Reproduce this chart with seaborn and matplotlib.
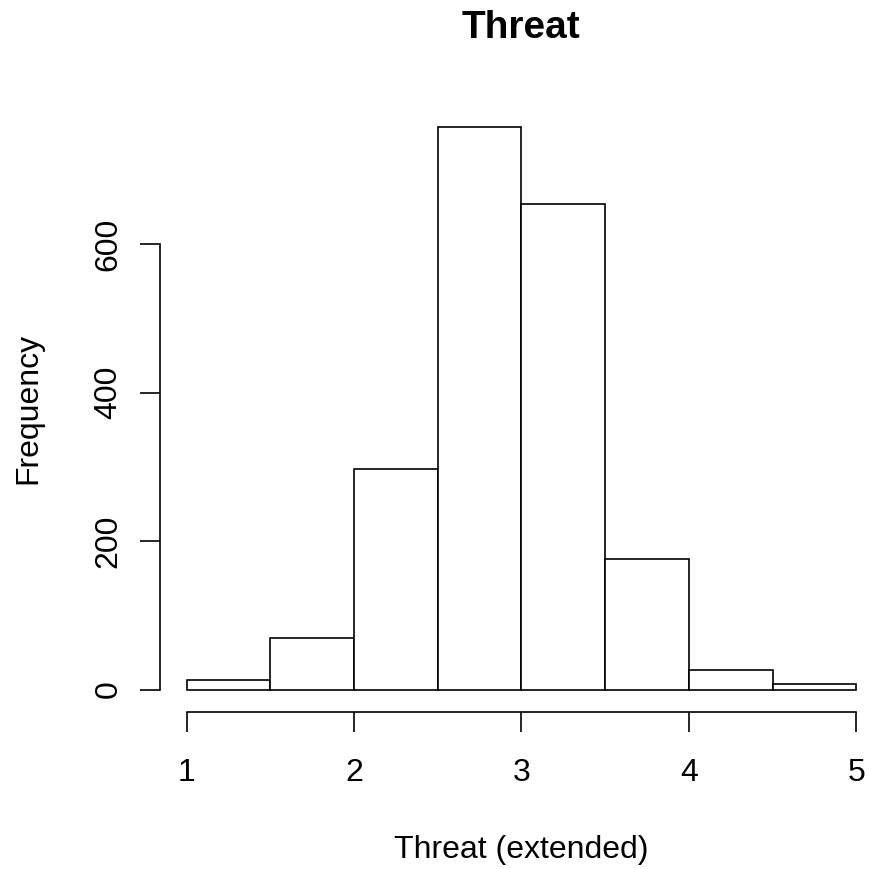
import numpy as np
import matplotlib
matplotlib.use("Agg")
import matplotlib.pyplot as plt
import seaborn as sns

# bin edges and counts
bin_edges = [1.0, 1.5, 2.0, 2.5, 3.0, 3.5, 4.0, 4.5, 5.0]
bin_counts = [13, 70, 297, 757, 654, 176, 26, 8]
x_ticks = [1, 2, 3, 4, 5]
y_ticks = [0, 200, 400, 600]

sns.set_theme(style="white")
plt.rcParams['font.family'] = ['Liberation Sans', 'DejaVu Sans']

centers = [(a + b) / 2 for a, b in zip(bin_edges[:-1], bin_edges[1:])]

fig = plt.figure(figsize=(8.69, 8.69), dpi=100)
# axes placed like R's plot region
ax = fig.add_axes([160 / 869, (869 - 712) / 869, 723 / 869, 607 / 869])

sns.histplot(x=centers, weights=bin_counts, bins=bin_edges, stat='count',
             color='white', edgecolor='black', linewidth=1.2, alpha=1,
             ax=ax)

# R style 4% padding
xr = bin_edges[-1] - bin_edges[0]
ax.set_xlim(bin_edges[0] - 0.04 * xr, bin_edges[-1] + 0.04 * xr)
ymax = max(bin_counts)
ax.set_ylim(-0.04 * ymax, ymax * 1.04)

for s in ['top', 'right']:
    ax.spines[s].set_visible(False)
ax.spines['left'].set_bounds(y_ticks[0], y_ticks[-1])
ax.spines['bottom'].set_bounds(x_ticks[0], x_ticks[-1])
for s in ['left', 'bottom']:
    ax.spines[s].set_color('black')
    ax.spines[s].set_linewidth(1.2)

ax.set_xticks(x_ticks)
ax.set_yticks(y_ticks)
ax.set_yticklabels([str(v) for v in y_ticks], rotation=90, va='center')
ax.tick_params(axis='both', direction='out', length=14.4, width=1.2,
               color='black', labelsize=23, labelcolor='black')
ax.tick_params(axis='x', pad=19, bottom=True)
ax.tick_params(axis='y', pad=12, left=True)

ax.set_xlabel('Threat (extended)', fontsize=23, color='black')
ax.set_ylabel('Frequency', fontsize=23, color='black')
ax.xaxis.set_label_coords(0.5, (712 - 850) / 607)
ax.yaxis.set_label_coords((28 - 160) / 723, 0.5)
ax.xaxis.label.set_va('center')
ax.yaxis.label.set_va('center')

fig.text(521.5 / 869, 1 - 28 / 869, 'Threat', ha='center', va='center',
         fontsize=28, fontweight='bold', color='black')

fig.savefig('out.png', dpi=100, facecolor='white')
